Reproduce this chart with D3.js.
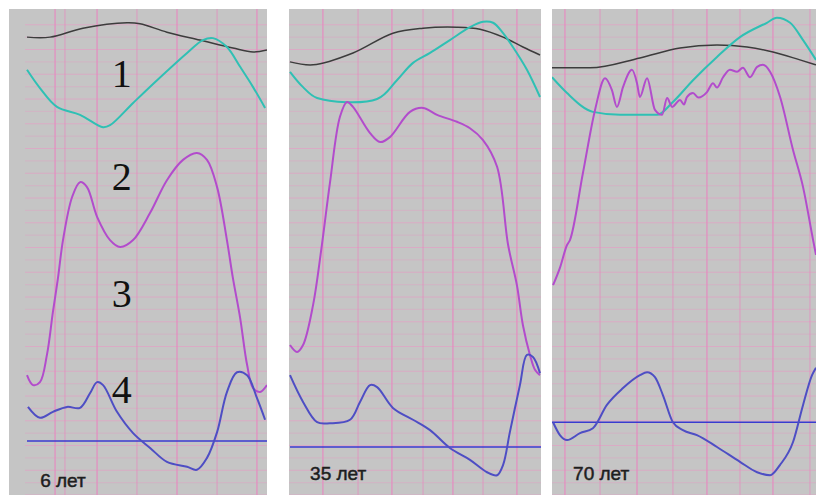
<!DOCTYPE html>
<html>
<head>
<meta charset="utf-8">
<script src="https://cdn.jsdelivr.net/npm/d3@7"></script>
<style>
  body { margin: 0; background: #fff; }
  svg { display: block; }
</style>
</head>
<body>
<svg id="chart" width="816" height="495"></svg>
<script>
// time is 0..100 across each panel, amplitude 0..100 bottom to top
const panelLabels = ['6 лет', '35 лет', '70 лет'];
const curveNumbers = ['1', '2', '3', '4'];

const black6 = [[0, 92.5], [9.6, 92.5], [23.3, 94.3], [41.7, 95.4], [47.1, 95.2], [58.3, 93.5], [72.1, 91.9], [85.8, 90.3], [94.2, 89.5], [100, 89.9]];
const cyan6 = [[0, 85.9], [5.4, 82.2], [12.5, 78.4], [22.1, 76.8], [31.7, 74.3], [34.6, 74.7], [44.2, 79.2], [54.2, 83.8], [66.7, 89.3], [73.3, 91.9], [77.5, 92.3], [83.3, 90.5], [88.8, 86.5], [94.2, 82.4], [99.2, 78.2]];
const magenta6 = [[0, 24.2], [2.5, 22.2], [5.4, 22.8], [8.3, 28.3], [10.8, 37], [12.9, 43.8], [15, 51.5], [18.8, 60.2], [22.1, 63.2], [25, 62.2], [29.2, 56.2], [34.6, 51.5], [38.8, 50.1], [44.2, 51.5], [51.3, 57], [58.3, 63.6], [65, 67.7], [70.8, 69.1], [75, 67.7], [79.2, 62.2], [83.3, 51.5], [85.8, 43.8], [88.8, 35.8], [91.7, 26.3], [94.2, 21.6], [97.1, 20.8], [100, 22.2]];
const blue6 = [[0.4, 17.8], [5.4, 15.6], [10.8, 16.8], [16.7, 17.8], [22.1, 17.6], [26.3, 20.6], [29.2, 22.8], [31.7, 22.2], [37.5, 16.8], [44.2, 12.5], [51.3, 9.5], [58.3, 6.7], [66.7, 5.7], [70.8, 5.1], [75, 7.5], [79.2, 12.7], [83.3, 20.8], [87.5, 24.8], [91.7, 24.2], [95.8, 19.6], [99.2, 15.2]];

const black35 = [[0, 87.5], [9.2, 86.9], [25.1, 89.3], [41, 93.3], [53, 94.3], [66.5, 94.5], [75.7, 94.1], [84.9, 92.5], [92.8, 90.5], [99.6, 88.9]];
const cyan35 = [[0, 85.5], [5.2, 82.4], [10.8, 80.2], [34.7, 80], [42.6, 83.8], [49, 87.3], [55.8, 89.3], [63.7, 91.9], [71.7, 94.5], [76.9, 95.6], [80.9, 95.4], [84.9, 93.3], [88.8, 90.5], [94.4, 85.9], [99.6, 80.4]];
const magenta35 = [[0, 30.3], [2.8, 28.9], [5.2, 30.3], [9.2, 38.4], [12.7, 50.5], [15.9, 63], [19.9, 76.4], [22.7, 79.4], [25.1, 78.4], [31.9, 73.1], [35.9, 71.3], [39.8, 72.3], [47.8, 77.4], [53, 78.2], [58.6, 76.8], [66.5, 75.4], [71.7, 74.1], [76.9, 71.7], [82.5, 66.3], [86.9, 50.5], [90.4, 42.4], [92.8, 34.3], [95.6, 28.3], [97.6, 25.3], [99.6, 24.2]];
const blue35 = [[0, 24.2], [5.2, 18.8], [10.8, 14.7], [15.9, 14.5], [23.9, 15.2], [27.9, 18.8], [31.9, 22.2], [34.7, 21.8], [41, 17.6], [49, 15.2], [55.8, 13.1], [63.7, 9.5], [71.7, 7.1], [78.5, 4.6], [82.5, 4], [84.9, 6.1], [87.6, 12.7], [91.6, 22.2], [94.4, 28.3], [96.8, 27.9], [99.6, 24.6]];

const black70 = [[0, 86.3], [14.4, 86.3], [33.3, 88.3], [48.5, 90.3], [62.5, 90.9], [73.9, 90.5], [83.7, 89.5], [93.9, 87.9], [100, 86.9]];
const cyan70 = [[0, 84.4], [5.7, 81.2], [15.5, 77.4], [25.8, 76.8], [39.8, 76.8], [45.8, 79.4], [53.4, 83.8], [62.5, 88.5], [71.2, 92.5], [81.4, 95.4], [85.2, 96.4], [90.2, 95.4], [95.1, 91.9], [100, 87.9]];
const magenta70 = [[0.4, 42.4], [3, 45.9], [5.7, 50.5], [6.8, 51.5], [11.7, 65], [16.3, 77.8], [20.1, 84.2], [22.7, 81.8], [24.6, 78.4], [26.9, 82.4], [30.3, 85.9], [32.2, 83.2], [33.3, 80.4], [36, 84.2], [39, 77.8], [41.7, 76.8], [43.6, 80.2], [45.5, 78.4], [48.5, 79.8], [50, 78.9], [51.1, 80.4], [53.4, 81.2], [55.5, 80.3], [58.7, 81.4], [61, 83.2], [62.5, 82.3], [64.8, 84.4], [67.4, 85.9], [70.1, 85.5], [72.3, 86.3], [75, 84.4], [77.7, 86.5], [79.9, 86.9], [82.6, 85.5], [86.4, 80.4], [91.3, 69.7], [95.1, 62.2], [98.9, 51.5], [100, 48.5]];
const blue70 = [[0.4, 14.7], [3, 12.1], [5.7, 11.1], [10.6, 12.5], [15.5, 13.5], [20.8, 18.2], [26.9, 21.6], [33.3, 24.2], [36, 24.8], [39, 23.8], [42, 20.2], [45.8, 14.7], [49.6, 13.1], [54.9, 12.1], [62.5, 9.7], [71.2, 6.7], [77.7, 4.6], [82.6, 4], [86.4, 6.1], [91.3, 10.7], [95.1, 18.2], [98.5, 24.2], [100, 25.7]];

const baselines = [10.9, 9.7, 14.7];
const gridTimes = [
  [11.7, 15.8, 29.2, 45.8, 62.5, 79.2, 95.8],
  [13.1, 27.1, 40.6, 53, 64.9, 76.9, 90.4],
  [4.9, 18.2, 32.2, 45.8, 58.7, 71.2, 83.7, 97.7],
];
const gridLevels = d3.range(0, 100.1, 2.5);
const numberLevels = [82.4, 61.6, 38, 18.6];

const seriesByPanel = [
  [black6, cyan6, magenta6, blue6],
  [black35, cyan35, magenta35, blue35],
  [black70, cyan70, magenta70, blue70],
];

const seriesColors = ['#3c3c3c', '#2fc0b4', '#b24ccc', '#4e4ec4'];
const baselineColor = '#3a3ad0';

const width = 816;
const height = 495;
const panelBoxes = [
  { x0: 9, x1: 267, d0: 27, d1: 267 },
  { x0: 289, x1: 541, d0: 290, d1: 541 },
  { x0: 552, x1: 816, d0: 552, d1: 816 },
];
const panelTop = 9;

const svg = d3.select('#chart');
svg.append('rect').attr('width', width).attr('height', height).attr('fill', '#fff');

const y = d3.scaleLinear().domain([0, 100]).range([height, 0]);

panelBoxes.forEach((box, i) => {
  const x = d3.scaleLinear().domain([0, 100]).range([box.d0, box.d1]);
  const g = svg.append('g');

  g.append('rect')
    .attr('x', box.x0)
    .attr('y', panelTop)
    .attr('width', box.x1 - box.x0)
    .attr('height', height - panelTop)
    .attr('fill', '#c5c5c5');

  const clipId = `clip${i}`;
  g.append('clipPath').attr('id', clipId)
    .append('rect')
    .attr('x', box.x0)
    .attr('y', panelTop)
    .attr('width', box.x1 - box.x0)
    .attr('height', height - panelTop);

  const inner = g.append('g').attr('clip-path', `url(#${clipId})`);
  const gridLeft = i === 0 ? 25 : box.x0;

  // horizontal grid
  inner.selectAll('.hgrid')
    .data(gridLevels.filter((v) => y(v) > panelTop + 4))
    .join('line')
    .attr('class', 'hgrid')
    .attr('x1', gridLeft)
    .attr('x2', box.x1)
    .attr('y1', (v) => y(v))
    .attr('y2', (v) => y(v))
    .attr('stroke', '#e79ac4')
    .attr('stroke-opacity', (v, k) => (k % 2 === 0 ? 0.6 : 0.4))
    .attr('stroke-width', 1);

  // vertical grid
  inner.selectAll('.vgrid')
    .data(gridTimes[i])
    .join('line')
    .attr('class', 'vgrid')
    .attr('x1', (t) => x(t))
    .attr('x2', (t) => x(t))
    .attr('y1', panelTop)
    .attr('y2', height)
    .attr('stroke', '#e58cc0')
    .attr('stroke-opacity', (t, k) => (k % 2 === 0 ? 0.8 : 0.5))
    .attr('stroke-width', 1.5);

  inner.append('line')
    .attr('x1', x(0))
    .attr('x2', box.x1)
    .attr('y1', y(baselines[i]))
    .attr('y2', y(baselines[i]))
    .attr('stroke', baselineColor)
    .attr('stroke-width', 1.5);

  const line = d3.line()
    .x((d) => x(d[0]))
    .y((d) => y(d[1]))
    .curve(i === 2 ? d3.curveMonotoneX : d3.curveCatmullRom.alpha(0.5));

  inner.selectAll('.trace')
    .data(seriesByPanel[i])
    .join('path')
    .attr('class', 'trace')
    .attr('d', line)
    .attr('fill', 'none')
    .attr('stroke', (d, k) => seriesColors[k])
    .attr('stroke-width', (d, k) => (k === 0 ? 1.5 : 2))
    .attr('stroke-linejoin', 'round');

  g.append('text')
    .attr('x', x(i === 0 ? 5.5 : 8))
    .attr('y', i === 0 ? 487 : 480)
    .attr('font-family', 'Liberation Sans, Arial, sans-serif')
    .attr('font-size', 19)
    .attr('fill', '#1e1e1e')
    .attr('stroke', '#1e1e1e')
    .attr('stroke-width', 0.5)
    .text(panelLabels[i]);

  if (i === 0) {
    g.selectAll('.num')
      .data(curveNumbers)
      .join('text')
      .attr('class', 'num')
      .attr('x', x(39.5))
      .attr('y', (d, k) => y(numberLevels[k]))
      .attr('text-anchor', 'middle')
      .attr('font-family', 'Liberation Serif, Times New Roman, serif')
      .attr('font-size', 40)
      .attr('fill', '#111')
      .text((d) => d);
  }
});
</script>
</body>
</html>
